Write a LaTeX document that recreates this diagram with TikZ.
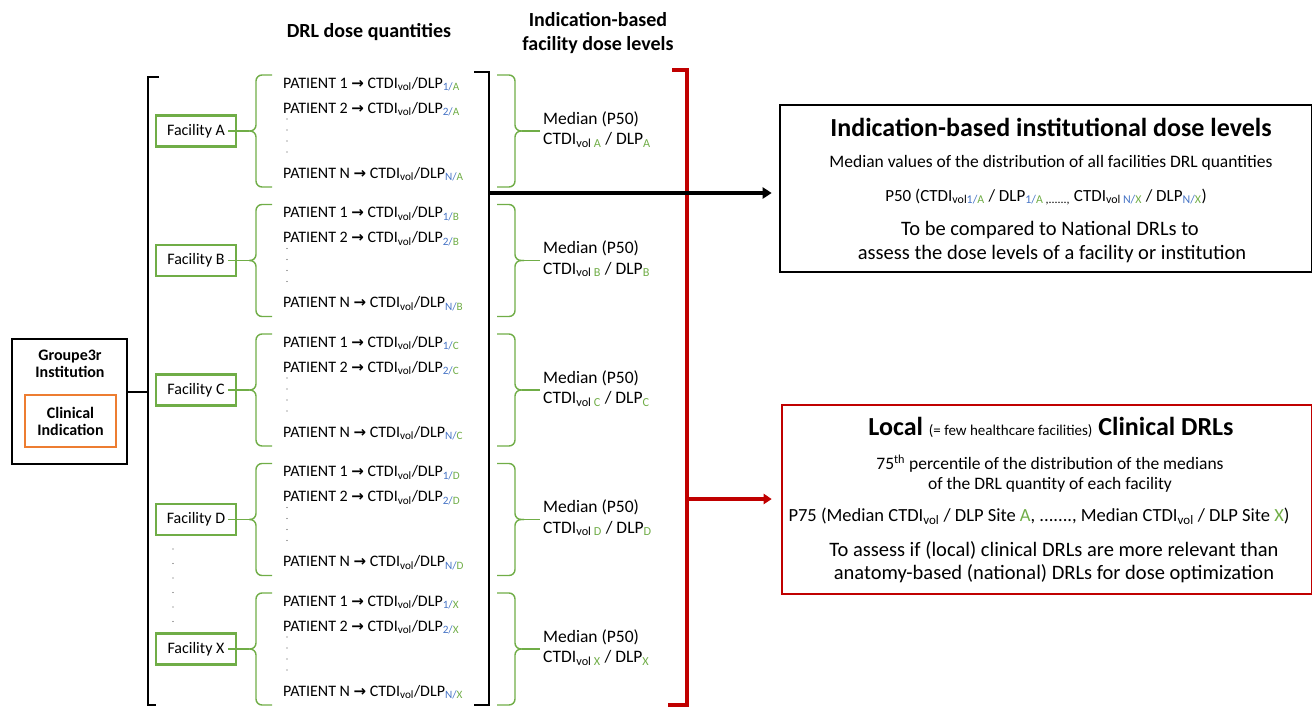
\documentclass[tikz,border=0pt]{standalone}
\usepackage{fontspec}
\setmainfont{Carlito}
\newfontfamily\djv{DejaVu Sans}
\usetikzlibrary{arrows.meta}
\definecolor{gG}{RGB}{112,173,71}
\definecolor{sBl}{RGB}{68,114,196}
\definecolor{oR}{RGB}{237,125,49}
\definecolor{rD}{RGB}{192,0,0}
\newcommand{\blu}[1]{\textcolor{sBl}{#1}}
\newcommand{\grn}[1]{\textcolor{gG}{#1}}
\newcommand{\rarr}{{\djv\bfseries\fontsize{15}{15}\selectfont →}}
\newcommand{\ptl}[3]{PATIENT #1 \rarr{} CTDI\textsubscript{vol}/DLP\textsubscript{\blu{#2/}\grn{#3}}}
\newcommand{\fs}[1]{\fontsize{#1}{#1}\selectfont}
\tikzset{
  fac/.style={draw=gG, line width=2.2pt, minimum width=80pt, minimum height=31pt, inner sep=0pt, font=\fs{16}},
  gb/.style={draw=gG, line width=1.4pt, rounded corners=6pt},
  gl/.style={draw=gG, line width=1.4pt},
  blk/.style={draw=black, line width=2.6pt},
  red/.style={draw=rD, line width=3.2pt},
  pt/.style={anchor=west, inner sep=0pt, font=\fs{16}},
  md/.style={anchor=west, inner sep=0pt, font=\fs{17.5}},
  dot/.style={circle, fill=black!70, inner sep=0pt, minimum size=1.3pt},
  hdr/.style={font=\bfseries\fs{20}, inner sep=0pt},
  bx/.style={inner sep=0pt},
}
\begin{document}
\begin{tikzpicture}[x=1pt,y=-1pt]
\useasboundingbox (0,0) rectangle (1312,707);
% headers
\node[hdr] (h1) at (369,32) {DRL dose quantities};
\node[hdr] (h2) at (598,20) {Indication-based};
\node[hdr] (h3) at (598,45) {facility dose levels};
% institution box
\node[draw, line width=2.8pt, minimum width=115pt, minimum height=125pt, inner sep=0pt] (grp) at (69.5,401.5) {};
\node[bx, font=\bfseries\fs{16}, align=center] (grpt) at (70,364) {Groupe3r\\[1pt]Institution};
\node[draw=oR, line width=2.4pt, minimum width=91pt, minimum height=52pt, inner sep=0pt, font=\bfseries\fs{16}, align=center] (ind) at (70.5,421) {Clinical\\[1pt]Indication};
% left black bracket
\draw[blk] (159,77) -- (148,77) -- (148,705) -- (156,705);
\coordinate (lbr) at (148,392);
\draw[blk] (grp.east |- lbr) -- (lbr);
% right black bracket
\draw[blk] (474,72) -- (489,72) -- (489,705) -- (474,705);
% groups
\foreach \L [count=\i from 0] in {A,B,C,D,X}{
  \pgfmathsetmacro\by{84+129.5*\i}
  \node[fac] (fac\L) at (196,\by+47) {Facility \L};
  \coordinate (tl\L) at (249,\by+47);
  \draw[gb] (272,\by-9) -- (256,\by-9) -- (256,\by+47) -- (249,\by+47);
  \draw[gb] (249,\by+47) -- (256,\by+47) -- (256,\by+103) -- (272,\by+103);
  \draw[gl] ([xshift=-9pt]fac\L.east) -- (tl\L);
  \node[pt] (p1\L) at (283,\by) {\ptl{1}{1}{\L}};
  \node[pt] (p2\L) at (283,\by+25) {\ptl{2}{2}{\L}};
  \node[pt] (pn\L) at (283,\by+90) {\ptl{N}{N}{\L}};
  \foreach \k in {0,1,2,3}{ \node[dot] at (287,\by+35+11*\k) {}; }
  % right brace
  \coordinate (tr\L) at (540,\by+47);
  \draw[gb] (497,\by-9) -- (515,\by-9) -- (515,\by+47) -- (524,\by+47);
  \draw[gb] (497,\by+103) -- (515,\by+103) -- (515,\by+47) -- (524,\by+47);
  \draw[gl] (522,\by+47) -- (tr\L);
  \node[md] (m1\L) at (543,\by+35) {Median (P50)};
  \node[md] (m2\L) at (543,\by+56) {CTDI\textsubscript{vol \grn{\L}} / DLP\textsubscript{\grn{\L}}};
}
% dots between D and X
\foreach \k in {0,...,5}{ \node[dot] at (173,549+14.5*\k) {}; }
% red bracket
\draw[red] (672,70) -- (687,70) -- (687,705) -- (668,705);
% boxes
\node[draw, line width=2.6pt, minimum width=532pt, minimum height=167pt, inner sep=0pt] (box1) at (1046,188.5) {};
\node[draw=rD, line width=2.6pt, minimum width=530pt, minimum height=189pt, inner sep=0pt] (box2) at (1047,499.5) {};
% arrows
\coordinate (ba) at (489,193);
\draw[line width=4.5pt, -{Triangle[length=9pt,width=11pt]}, shorten >=7pt] (ba) -- (box1.west |- ba);
\coordinate (ra) at (687,499);
\draw[draw=rD, line width=4pt, -{Triangle[length=8pt,width=10pt]}, shorten >=9pt] (ra) -- (box2.west |- ra);
% box1 text
\node[bx, font=\bfseries\fs{26}] (b1t1) at (1051,127) {Indication-based institutional dose levels};
\node[bx, font=\fs{17.5}] (b1t2) at (1051,163) {Median values of the distribution of all facilities DRL quantities};
\node[bx, font=\fs{17}] (b1t3) at (1046,197) {P50 (CTDI\textsubscript{vol\blu{1/}\grn{A}} / DLP\textsubscript{\blu{1/}\grn{A} ,......,} CTDI\textsubscript{vol \blu{N/}\grn{X}} / DLP\textsubscript{\blu{N/}\grn{X}})};
\node[bx, font=\fs{20.5}] (b1t4) at (1050,230) {To be compared to National DRLs to};
\node[bx, font=\fs{20.5}] (b1t5) at (1052,254) {assess the dose levels of a facility or institution};
% box2 text
\node[bx, font=\fs{26}] (b2t1) at (1051,427) {\textbf{Local} {\fs{15}(= few healthcare facilities)} \textbf{Clinical DRLs}};
\node[bx, font=\fs{17.5}] (b2t2) at (1050,464) {75\textsuperscript{th} percentile of the distribution of the medians};
\node[bx, font=\fs{17.5}] (b2t3) at (1050,485) {of the DRL quantity of each facility};
\node[bx, font=\fs{18.5}] (b2t4) at (1039,516) {P75 (Median CTDI\textsubscript{vol} / DLP Site \grn{A}, ......., Median CTDI\textsubscript{vol} / DLP Site \grn{X})};
\node[bx, font=\fs{20.5}] (b2t5) at (1054,550) {To assess if (local) clinical DRLs are more relevant than};
\node[bx, font=\fs{20.5}] (b2t6) at (1054,574) {anatomy-based (national) DRLs for dose optimization};
\end{tikzpicture}
\end{document}
